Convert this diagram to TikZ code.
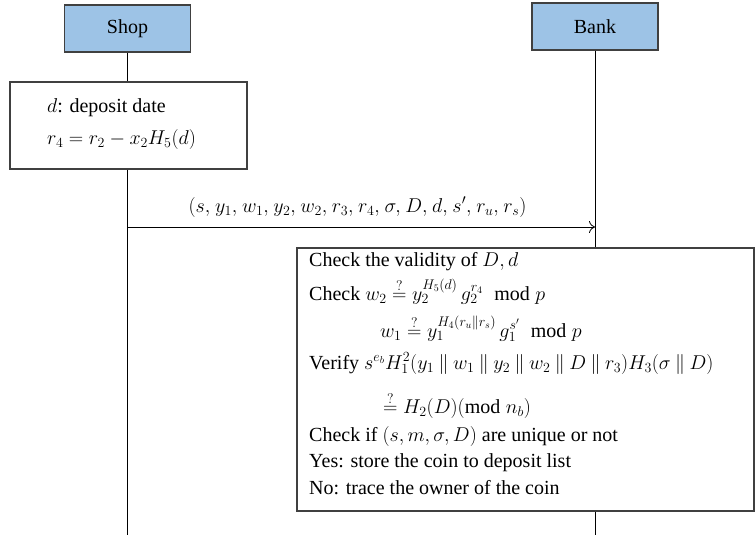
\RequirePackage{fix-cm}
\documentclass[tikz,border=0pt]{standalone}
\usepackage{fontspec}
\setmainfont{Liberation Serif}
\usetikzlibrary{arrows.meta}
\definecolor{actorblue}{RGB}{157,195,230}
\definecolor{boxgray}{RGB}{64,64,64}
\newcommand{\qeq}{\stackrel{?}{=}}
\newcommand{\cc}{\mathbin{\|}}
\newcommand{\cm}{,\mskip1.2mu}
\begin{document}
\begin{tikzpicture}[x=1pt,y=-1pt,
  actor/.style={draw=boxgray, fill=actorblue, line width=1.3pt, minimum width=126pt, minimum height=47pt, inner sep=0pt, font=\fontsize{20}{24}\selectfont},
  lifeline/.style={draw=black, line width=0.8pt},
  procbox/.style={draw=boxgray, line width=1.3pt, fill=white, inner sep=0pt},
  msg/.style={draw=black, line width=0.8pt, -{To[length=6pt,width=12pt]}},
  txt/.style={anchor=base west, inner sep=0pt, font=\fontsize{20}{24}\selectfont}]
\useasboundingbox (0,0) rectangle (755,535);
% actors
\node[actor] (shop) at (127.5,28.5) {Shop};
\node[actor] (bank) at (595,26.5) {Bank};
% process boxes
\node[procbox, minimum width=237pt, minimum height=87pt] (dep) at (128.5,125.5) {};
\node[procbox, minimum width=457pt, minimum height=263pt] (chk) at (525.5,379.5) {};
% helper coordinates
\coordinate (arrowy) at (0,227);
\coordinate (endy) at (0,535);
% lifelines
\draw[lifeline] (shop.south) -- (shop.south |- dep.north);
\draw[lifeline] (shop.south |- dep.south) -- (shop.south |- endy);
\draw[lifeline] (bank.south) -- (bank.south |- chk.north);
\draw[lifeline] (bank.south |- chk.south) -- (bank.south |- endy);
% message
\draw[msg] (shop.south |- arrowy) -- (bank.south |- arrowy);
\node[txt, anchor=base] (msglabel) at (357.5,212) {$(s\cm y_1\cm w_1\cm y_2\cm w_2\cm r_3\cm r_4\cm \sigma\cm D\cm d\cm s'\cm r_u\cm r_s)$};
% deposit box text
\node[txt] (d1) at (47,112) {$d$: deposit date};
\node[txt] (d2) at (47,144) {$r_4 = r_2 - x_2H_5(d)$};
% check box text
\node[txt] (c1) at (309,266) {Check the validity of $D, d$};
\node[txt] (c2) at (309,300) {Check $w_2 \qeq y_2^{H_5(d)}\, g_2^{r_4} \;\bmod p$};
\node[txt] (c3) at (380,337) {$w_1 \qeq y_1^{H_4(r_u \cc r_s)}\, g_1^{s'} \;\bmod p$};
\node[txt] (c4) at (309,369) {Verify $s^{e_b} H_1^2(y_1 \cc w_1 \cc y_2 \cc w_2 \cc D \cc r_3) H_3(\sigma \cc D)$};
\node[txt] (c5) at (383,413) {$\qeq H_2(D) (\mathrm{mod}\; n_b)$};
\node[txt] (c6) at (309,441) {Check if $(s, m, \sigma, D)$ are unique or not};
\node[txt] (c7) at (309,467) {Yes: store the coin to deposit list};
\node[txt] (c8) at (309,494) {No: trace the owner of the coin};
\end{tikzpicture}
\end{document}
